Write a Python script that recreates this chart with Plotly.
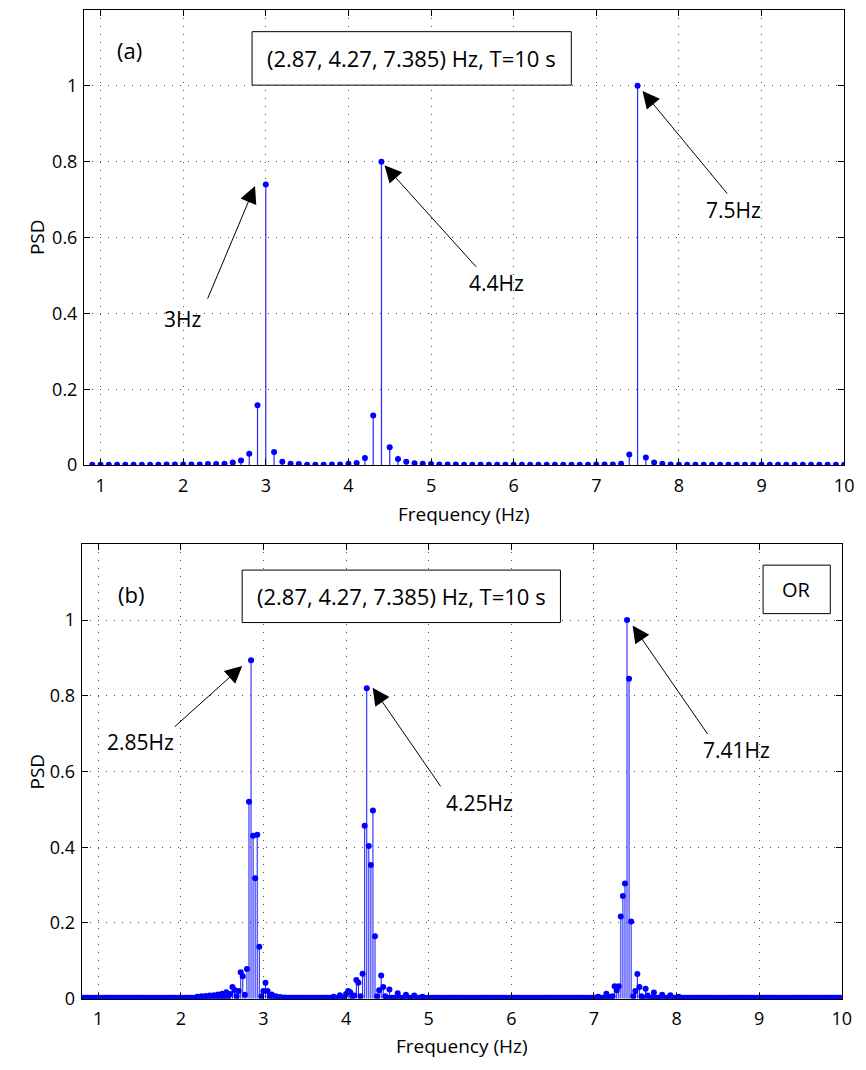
import numpy as np
import plotly.graph_objects as go

W, H = 866, 1070

# ---------------- Panel (a): T = 10 s, 0.1 Hz resolution ----------------
freq_a = [round(0.9 + 0.1 * i, 1) for i in range(92)]  # 0.9 ... 10.0 Hz
psd_a = [
    0.001, 0.001, 0.001, 0.001, 0.001, 0.001, 0.001, 0.001, 0.001, 0.002,  # 0.9-1.8
    0.002, 0.002, 0.002, 0.002, 0.003, 0.003, 0.004, 0.007, 0.012, 0.030,  # 1.9-2.8
    0.158, 0.740, 0.035, 0.009, 0.004, 0.003, 0.001, 0.001, 0.001, 0.002,  # 2.9-3.8
    0.002, 0.004, 0.006, 0.019, 0.131, 0.800, 0.047, 0.016, 0.009, 0.005,  # 3.9-4.8
    0.004, 0.003, 0.002, 0.002, 0.002, 0.001, 0.001, 0.001, 0.001, 0.001,  # 4.9-5.8
    0.001, 0.001, 0.001, 0.001, 0.001, 0.001, 0.001, 0.001, 0.001, 0.001,  # 5.9-6.8
    0.001, 0.002, 0.002, 0.002, 0.004, 0.028, 1.000, 0.020, 0.007, 0.004,  # 6.9-7.8
    0.002, 0.001, 0.001, 0.001, 0.001, 0.001, 0.001, 0.001, 0.001, 0.001,  # 7.9-8.8
    0.001, 0.001, 0.001, 0.001, 0.001, 0.001, 0.001, 0.001, 0.001, 0.001,  # 8.9-9.8
    0.001, 0.001,                                                          # 9.9-10.0
]

# ---------------- Panel (b): finer frequency grid ----------------
freq_b = [round(0.8 + 0.025 * i, 3) for i in range(369)]  # 0.8 ... 10.0 Hz
baseline_psd_b = 0.002
peak_freq_b = [
    2.2, 2.25, 2.3, 2.35, 2.4, 2.45, 2.5, 2.55, 2.575, 2.6, 2.625, 2.65, 2.675,
    2.7, 2.725, 2.75, 2.775, 2.8, 2.825, 2.85, 2.875, 2.9, 2.925, 2.95, 2.975,
    3.0, 3.025, 3.05, 3.075, 3.1, 3.15, 3.2, 3.25,
    3.85, 3.925, 4.0, 4.025, 4.05, 4.075, 4.1, 4.125, 4.15, 4.175, 4.2, 4.225,
    4.25, 4.275, 4.3, 4.325, 4.35, 4.375, 4.4, 4.425, 4.45, 4.475, 4.525,
    4.625, 4.725, 4.825, 4.925,
    7.05, 7.15, 7.175, 7.225, 7.25, 7.275, 7.3, 7.325, 7.35, 7.375, 7.4,
    7.425, 7.45, 7.475, 7.5, 7.525, 7.55, 7.575, 7.625, 7.65, 7.725, 7.825,
    7.925, 8.025,
]
peak_psd_b = [
    0.005, 0.006, 0.007, 0.008, 0.009, 0.011, 0.013, 0.017, 0.006, 0.012, 0.031, 0.023, 0.006,
    0.020, 0.070, 0.059, 0.010, 0.078, 0.520, 0.894, 0.430, 0.318, 0.433, 0.137, 0.006,
    0.020, 0.042, 0.020, 0.006, 0.011, 0.006, 0.004, 0.003,
    0.005, 0.009, 0.012, 0.020, 0.017, 0.006, 0.008, 0.049, 0.042, 0.006, 0.066, 0.457,
    0.820, 0.403, 0.353, 0.497, 0.165, 0.006, 0.022, 0.061, 0.031, 0.006, 0.024,
    0.014, 0.010, 0.008, 0.005,
    0.005, 0.013, 0.005, 0.006, 0.033, 0.022, 0.033, 0.217, 0.271, 0.304, 1.000,
    0.845, 0.204, 0.006, 0.020, 0.065, 0.031, 0.006, 0.026, 0.008, 0.016, 0.010,
    0.009, 0.005,
]
peak_map = dict(zip(peak_freq_b, peak_psd_b))
psd_b = [peak_map.get(f, baseline_psd_b) for f in freq_b]

x_ticks = [1, 2, 3, 4, 5, 6, 7, 8, 9, 10]
y_ticks = [0, 0.2, 0.4, 0.6, 0.8, 1]
y_ticktext = ["0", "0.2", "0.4", "0.6", "0.8", "1"]

x_title = "Frequency (Hz)"
y_title = "PSD"
label_a = "(2.87, 4.27, 7.385) Hz, T=10 s"
label_b = "(2.87, 4.27, 7.385) Hz, T=10 s"

FONT = "Open Sans"
BLUE = "rgb(0,0,255)"
STEM = "rgb(40,40,255)"


def px(x):
    return x / W


def py(y):
    return 1 - y / H


def stem_traces(f, v, xa, ya, msize, lw):
    xs, ys = [], []
    for fi, vi in zip(f, v):
        xs += [fi, fi, None]
        ys += [0, vi, None]
    lines = go.Scatter(x=xs, y=ys, mode="lines", line=dict(color=STEM, width=lw),
                       xaxis=xa, yaxis=ya, showlegend=False, hoverinfo="skip")
    dots = go.Scatter(x=f, y=v, mode="markers", marker=dict(color=BLUE, size=msize),
                      xaxis=xa, yaxis=ya, showlegend=False, hoverinfo="skip")
    return [lines, dots]


fig = go.Figure()
for t in stem_traces(freq_a, psd_a, "x", "y", 6, 1.2):
    fig.add_trace(t)
for t in stem_traces(freq_b, psd_b, "x2", "y2", 6, 1.1):
    fig.add_trace(t)

axis_common = dict(
    showline=True, linecolor="black", linewidth=1, mirror="ticks",
    ticks="inside", ticklen=6, tickcolor="black",
    showgrid=True, gridcolor="rgba(60,60,60,0.9)", gridwidth=1, griddash="1px,7px",
    zeroline=False, tickfont=dict(family=FONT, size=18, color="black"),
)

fig.update_layout(
    width=W, height=H, margin=dict(l=0, r=0, t=0, b=0),
    paper_bgcolor="white", plot_bgcolor="white",
    font=dict(family=FONT, color="black"),
    xaxis=dict(domain=[px(85), px(854)], range=[0.8, 10], tickvals=x_ticks, anchor="y",
               ticklabelstandoff=4, **axis_common),
    yaxis=dict(domain=[py(470), py(10)], range=[0, 1.2], tickvals=y_ticks, ticktext=y_ticktext,
               anchor="x", ticklabelstandoff=2, **axis_common),
    xaxis2=dict(domain=[px(82.6), px(851.7)], range=[0.8, 10], tickvals=x_ticks, anchor="y2",
                ticklabelstandoff=4, **axis_common),
    yaxis2=dict(domain=[py(1009), py(550)], range=[0, 1.2], tickvals=y_ticks, ticktext=y_ticktext,
                anchor="x2", ticklabelstandoff=2, **axis_common),
)

shapes = []
for (x0, y0, x1, y1) in [(255, 32, 578, 86), (245, 576, 567, 629), (772, 571, 840, 620)]:
    shapes.append(dict(type="rect", xref="paper", yref="paper",
                       x0=px(x0), x1=px(x1), y0=py(y1), y1=py(y0),
                       line=dict(color="black", width=1), fillcolor="white", layer="above"))
fig.update_layout(shapes=shapes)

ann = []


def text(x, y, s, size=21, angle=0):
    ann.append(dict(x=px(x), y=py(y), xref="paper", yref="paper", text=s, showarrow=False,
                    font=dict(family=FONT, size=size, color="black"), textangle=angle,
                    xanchor="center", yanchor="middle"))


def arrow(tip, tail):
    ann.append(dict(x=px(tip[0]), y=py(tip[1]), xref="paper", yref="paper",
                    ax=tail[0] - tip[0], ay=tail[1] - tip[1], text="",
                    showarrow=True, arrowhead=2, arrowsize=3.4, arrowwidth=1,
                    arrowcolor="black", standoff=0))


# axis titles
text(469, 519, x_title, 19)
text(467, 1057, x_title, 19)
text(37, 240, y_title, 19, -90)
text(37, 780, y_title, 19, -90)

text(131, 51, "(a)", 22)
text(416, 59, label_a, 22)
text(133, 600, "(b)", 22)
text(406, 602, label_b, 22)
text(806, 596, "OR", 20)

text(185, 322, "3Hz")
arrow((258, 188), (210, 302))
text(502, 286, "4.4Hz")
arrow((389, 167), (482, 270))
text(742, 212, "7.5Hz")
arrow((650, 92), (736, 196))

text(142, 750, "2.85Hz")
arrow((245, 673), (176, 735))
text(485, 811, "4.25Hz")
arrow((377, 695), (446, 795))
text(745, 758, "7.41Hz")
arrow((640, 632), (716, 742))

fig.update_layout(annotations=ann)
fig.write_html(
    "out.html",
    config={"displayModeBar": False},
    post_script="document.body.style.margin='0px';document.body.style.overflow='hidden';",
)
